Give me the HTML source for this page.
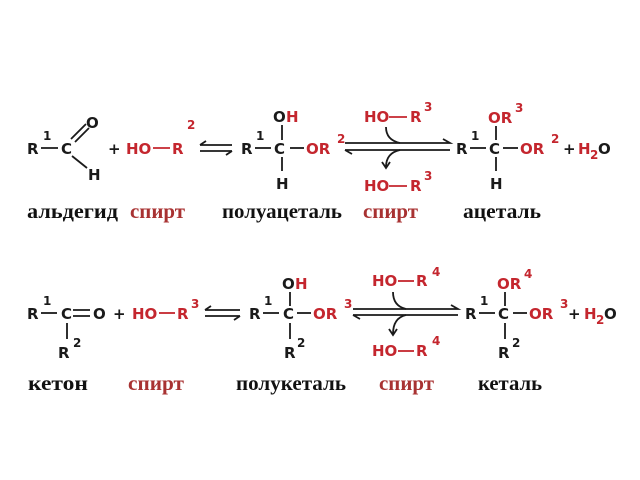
<!DOCTYPE html>
<html><head><meta charset="utf-8"><style>
html,body{margin:0;padding:0;background:#fff;}
svg{display:block}
.c{font-family:"DejaVu Sans","Liberation Sans",sans-serif;font-weight:bold;font-size:15px;fill:#1a1a1a}
.r{fill:#c4262e}
.s{font-size:12px}
.l{font-family:"Liberation Serif",serif;font-weight:bold;font-size:20px;fill:#111}
.lr{fill:#a83232}
line,path{stroke:#1a1a1a;stroke-width:1.8;fill:none}
.rl{stroke:#c4262e}
</style></head><body>
<svg width="640" height="480" viewBox="0 0 640 480">
<!-- Row 1 -->
<text class="c" x="27" y="154">R</text><text class="c s" x="43" y="140">1</text>
<line x1="41" y1="148" x2="58" y2="148"/>
<text class="c" x="61" y="154">C</text>
<line x1="71" y1="139" x2="86" y2="124"/><line x1="75" y1="142" x2="89" y2="128"/>
<text class="c" x="86" y="128">O</text>
<line x1="72" y1="156" x2="87" y2="168"/>
<text class="c" x="88" y="180">H</text>
<text class="c" x="108" y="154">+</text>
<text class="c r" x="126" y="154">HO</text><line class="rl" x1="153" y1="148" x2="170" y2="148"/>
<text class="c r" x="172" y="154">R</text><text class="c r s" x="187" y="129">2</text>
<path d="M200 145 H232 M200 145 l6 -4"/><path d="M200 151 H232 M232 151 l-6 4"/>
<text class="c" x="241" y="154">R</text><text class="c s" x="256" y="140">1</text>
<line x1="255" y1="148" x2="271" y2="148"/>
<text class="c" x="274" y="154">C</text>
<line x1="282" y1="125" x2="282" y2="140"/><line x1="282" y1="157" x2="282" y2="171"/>
<text class="c" x="273" y="122">O</text><text class="c r" x="286" y="122">H</text>
<text class="c" x="276" y="189">H</text>
<line x1="290" y1="148" x2="304" y2="148"/>
<text class="c r" x="306" y="154">OR</text><text class="c r s" x="337" y="143">2</text>
<path d="M345 143 H450 l-7 -4"/><path d="M345 150 H450 M345 150 l7 4"/>
<text class="c r" x="364" y="122">HO</text><line class="rl" x1="389" y1="117" x2="407" y2="117"/>
<text class="c r" x="410" y="122">R</text><text class="c r s" x="424" y="111">3</text>
<path d="M386 127 Q386 140 400 143"/>
<path d="M400 150 Q386 153 386 167 M382 162 l4 6 l4 -6"/>
<text class="c r" x="364" y="191">HO</text><line class="rl" x1="389" y1="186" x2="407" y2="186"/>
<text class="c r" x="410" y="191">R</text><text class="c r s" x="424" y="180">3</text>
<text class="c" x="456" y="154">R</text><text class="c s" x="471" y="140">1</text>
<line x1="470" y1="148" x2="486" y2="148"/>
<text class="c" x="489" y="154">C</text>
<line x1="496" y1="126" x2="496" y2="140"/><line x1="496" y1="157" x2="496" y2="171"/>
<text class="c r" x="488" y="123">OR</text><text class="c r s" x="515" y="112">3</text>
<text class="c" x="490" y="189">H</text>
<line x1="503" y1="148" x2="518" y2="148"/>
<text class="c r" x="520" y="154">OR</text><text class="c r s" x="551" y="143">2</text>
<text class="c" x="563" y="154">+</text>
<text class="c r" x="578" y="154">H</text><text class="c r s" x="590" y="159">2</text><text class="c" x="598" y="154">O</text>
<text class="l" x="27" y="218" textLength="91" lengthAdjust="spacingAndGlyphs">альдегид</text>
<text class="l lr" x="130" y="218" textLength="55" lengthAdjust="spacingAndGlyphs">спирт</text>
<text class="l" x="222" y="218" textLength="120" lengthAdjust="spacingAndGlyphs">полуацеталь</text>
<text class="l lr" x="363" y="218" textLength="55" lengthAdjust="spacingAndGlyphs">спирт</text>
<text class="l" x="463" y="218" textLength="78" lengthAdjust="spacingAndGlyphs">ацеталь</text>
<!-- Row 2 -->
<text class="c" x="27" y="319">R</text><text class="c s" x="43" y="305">1</text>
<line x1="41" y1="313" x2="57" y2="313"/>
<text class="c" x="61" y="319">C</text>
<line x1="73" y1="310" x2="90" y2="310"/><line x1="73" y1="316" x2="90" y2="316"/>
<text class="c" x="93" y="319">O</text>
<line x1="67" y1="323" x2="67" y2="339"/>
<text class="c s" x="73" y="347">2</text>
<text class="c" x="58" y="358">R</text>
<text class="c" x="113" y="319">+</text>
<text class="c r" x="132" y="319">HO</text><line class="rl" x1="159" y1="313" x2="175" y2="313"/>
<text class="c r" x="177" y="319">R</text><text class="c r s" x="191" y="308">3</text>
<path d="M205 310 H240 M205 310 l6 -4"/><path d="M205 316 H240 M240 316 l-6 4"/>
<text class="c" x="249" y="319">R</text><text class="c s" x="264" y="305">1</text>
<line x1="263" y1="313" x2="279" y2="313"/>
<text class="c" x="283" y="319">C</text>
<line x1="290" y1="292" x2="290" y2="306"/><line x1="290" y1="323" x2="290" y2="339"/>
<text class="c" x="282" y="289">O</text><text class="c r" x="295" y="289">H</text>
<text class="c s" x="297" y="347">2</text>
<text class="c" x="284" y="358">R</text>
<line x1="297" y1="313" x2="311" y2="313"/>
<text class="c r" x="313" y="319">OR</text><text class="c r s" x="344" y="308">3</text>
<path d="M353 309 H458 l-7 -4"/><path d="M353 315 H458 M353 315 l7 4"/>
<text class="c r" x="372" y="286">HO</text><line class="rl" x1="398" y1="281" x2="414" y2="281"/>
<text class="c r" x="416" y="286">R</text><text class="c r s" x="432" y="276">4</text>
<path d="M393 292 Q393 306 406 309"/>
<path d="M406 315 Q393 318 393 334 M389 329 l4 6 l4 -6"/>
<text class="c r" x="372" y="356">HO</text><line class="rl" x1="398" y1="351" x2="414" y2="351"/>
<text class="c r" x="416" y="356">R</text><text class="c r s" x="432" y="345">4</text>
<text class="c" x="465" y="319">R</text><text class="c s" x="480" y="305">1</text>
<line x1="479" y1="313" x2="495" y2="313"/>
<text class="c" x="498" y="319">C</text>
<line x1="505" y1="292" x2="505" y2="306"/><line x1="505" y1="323" x2="505" y2="339"/>
<text class="c r" x="497" y="289">OR</text><text class="c r s" x="524" y="278">4</text>
<text class="c s" x="512" y="347">2</text>
<text class="c" x="498" y="358">R</text>
<line x1="513" y1="313" x2="527" y2="313"/>
<text class="c r" x="529" y="319">OR</text><text class="c r s" x="560" y="308">3</text>
<text class="c" x="568" y="319">+</text>
<text class="c r" x="584" y="319">H</text><text class="c r s" x="596" y="324">2</text><text class="c" x="604" y="319">O</text>
<text class="l" x="28" y="390" textLength="60" lengthAdjust="spacingAndGlyphs">кетон</text>
<text class="l lr" x="128" y="390" textLength="56" lengthAdjust="spacingAndGlyphs">спирт</text>
<text class="l" x="236" y="390" textLength="110" lengthAdjust="spacingAndGlyphs">полукеталь</text>
<text class="l lr" x="379" y="390" textLength="55" lengthAdjust="spacingAndGlyphs">спирт</text>
<text class="l" x="478" y="390" textLength="64" lengthAdjust="spacingAndGlyphs">кеталь</text>
</svg>
</body></html>
